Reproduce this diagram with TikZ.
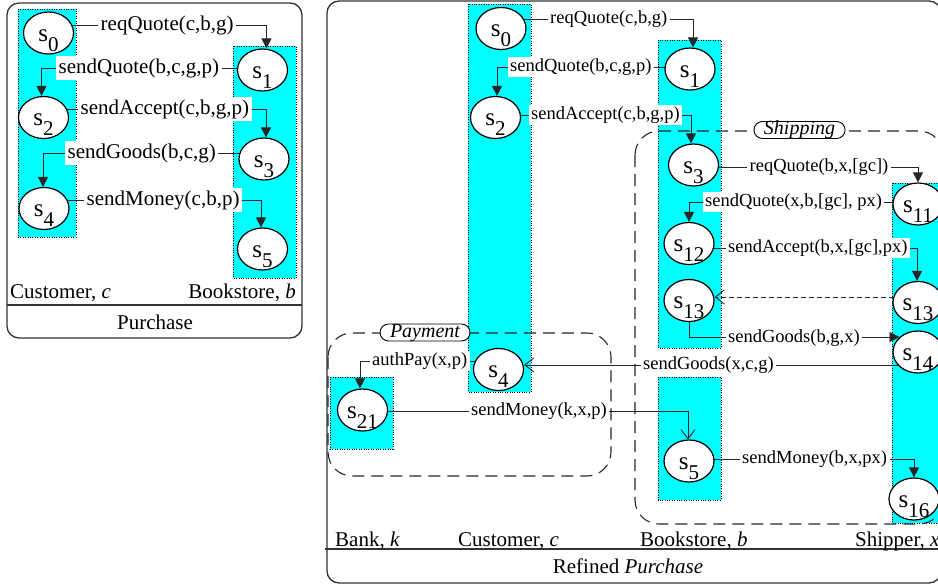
\documentclass[tikz,border=0pt]{standalone}
\usepackage{fontspec}
\setmainfont{Liberation Serif}
\usetikzlibrary{arrows.meta,shapes.geometric}
\pgfdeclarelayer{lanes}
\pgfdeclarelayer{conns}
\pgfsetlayers{lanes,conns,main}
\definecolor{lanecyan}{RGB}{0,255,255}
\newcommand{\stl}[1]{s\raisebox{-10pt}{\fontsize{21}{21}\selectfont #1}}
\begin{document}
\begin{tikzpicture}[x=1pt,y=-1pt,
  state/.style={ellipse,draw,line width=1.2pt,fill=white,minimum width=50pt,minimum height=42pt,inner sep=0pt,font=\fontsize{25}{25}\selectfont,text height=16pt,text depth=0pt},
  lblL/.style={fill=white,inner xsep=2.5pt,inner ysep=2pt,anchor=west,font=\fontsize{21}{21}\selectfont},
  lblR/.style={fill=white,inner xsep=2.5pt,inner ysep=2pt,anchor=west,font=\fontsize{18.5}{18.5}\selectfont},
  lanename/.style={inner sep=0pt,font=\fontsize{21}{21}\selectfont},
  pill/.style={draw,fill=white,line width=0.9pt,rounded corners=8.5pt,inner xsep=10pt,inner ysep=0pt,text height=13pt,text depth=4pt,font=\fontsize{20}{20}\selectfont\itshape},
  conn/.style={line width=0.9pt,draw=black!85},
  arrF/.style={-{Triangle[length=10pt,width=10pt]}},
  arrO/.style={-{Straight Barb[length=9pt,width=14pt,line width=0.9pt]}},
  lanefill/.style={fill=lanecyan},
  laneedge/.style={draw=black,line width=0.6pt,dash pattern=on 0.8pt off 1.6pt},
  outerbox/.style={draw=black!80,line width=1.3pt,rounded corners=12pt},
  groupbox/.style={draw=black!85,line width=1.1pt,dash pattern=on 12pt off 7pt,rounded corners=24pt}]
\useasboundingbox (0,0) rectangle (938,584);

% ---------------- lanes ----------------
\begin{pgfonlayer}{lanes}
  \fill[lanefill] (18,9) rectangle (76,237);
  \draw[laneedge] (18,9) rectangle (76,237);
  \fill[lanefill] (233,46) rectangle (296,278);
  \draw[laneedge] (233,46) rectangle (296,278);
  \fill[lanefill] (468,4) rectangle (531,392);
  \draw[laneedge] (468,4) rectangle (531,392);
  \fill[lanefill] (658,40) rectangle (721,348);
  \draw[laneedge] (658,40) rectangle (721,348);
  \fill[lanefill] (658,377) rectangle (721,500);
  \draw[laneedge] (658,377) rectangle (721,500);
  \fill[lanefill] (892,183) rectangle (950,523);
  \draw[laneedge] (892,183) rectangle (950,523);
  \fill[lanefill] (330,377) rectangle (393,449);
  \draw[laneedge] (330,377) rectangle (393,449);
\end{pgfonlayer}

% ---------------- left panel ----------------
\node[state] (Ls0) at (48.5,33) {\stl{0}};
\node[state] (Ls1) at (262.5,70) {\stl{1}};
\node[state] (Ls2) at (43.5,117.5) {\stl{2}};
\node[state] (Ls3) at (264,159) {\stl{3}};
\node[state] (Ls4) at (44,208.5) {\stl{4}};
\node[state] (Ls5) at (262.5,249) {\stl{5}};

\node[lblL] (Lm1) at (98,25) {reqQuote(c,b,g)};
\node[lblL] (Lm2) at (56,68) {sendQuote(b,c,g,p)};
\node[lblL] (Lm3) at (78,109) {sendAccept(c,b,g,p)};
\node[lblL] (Lm4) at (65,153) {sendGoods(b,c,g)};
\node[lblL] (Lm5) at (84,200) {sendMoney(c,b,p)};

\node[lanename,anchor=base west] (Lc) at (10,298) {Customer, \textit{c}};
\node[lanename,anchor=base east] (Lb) at (296,298) {Bookstore, \textit{b}};
\node[lanename,anchor=base] (Lp) at (155,329) {Purchase};

% ---------------- right panel ----------------
\node[state] (Rs0) at (501,28.5) {\stl{0}};
\node[state] (Rs1) at (690,69) {\stl{1}};
\node[state] (Rs2) at (495.5,117.5) {\stl{2}};
\node[state] (Rs3) at (693.5,165) {\stl{3}};
\node[state] (Rs11) at (918,204) {\stl{11}};
\node[state] (Rs12) at (689,243.5) {\stl{12}};
\node[state] (Rs13) at (689,300.5) {\stl{13}};
\node[state] (Rs13b) at (918,302.5) {\stl{13}};
\node[state] (Rs14) at (918,352) {\stl{14}};
\node[state] (Rs4) at (498.5,369.5) {\stl{4}};
\node[state] (Rs21) at (362.5,410) {\stl{21}};
\node[state] (Rs5) at (689,461) {\stl{5}};
\node[state] (Rs16) at (914,499) {\stl{16}};

\node[lblR] (Rm1) at (547.5,19) {reqQuote(c,b,g)};
\node[lblR] (Rm2) at (507.5,67) {sendQuote(b,c,g,p)};
\node[lblR] (Rm3) at (528.5,115) {sendAccept(c,b,g,p)};
\node[lblR] (Rm4) at (747,167) {reqQuote(b,x,[gc])};
\node[lblR] (Rm5) at (702.5,202) {sendQuote(x,b,[gc], px)};
\node[lblR] (Rm6) at (725.5,248) {sendAccept(b,x,[gc],px)};
\node[lblR] (Rm7) at (725.5,338) {sendGoods(b,g,x)};
\node[lblR] (Rm8) at (640.5,365) {sendGoods(x,c,g)};
\node[lblR] (Rm9) at (369.5,361) {authPay(x,p)};
\node[lblR] (Rm10) at (468.5,411) {sendMoney(k,x,p)};
\node[lblR] (Rm11) at (739.5,459) {sendMoney(b,x,px)};

\node[pill] (Pship) at (799.5,130) {Shipping};
\node[pill] (Ppay) at (425,332.5) {Payment};

\node[lanename,anchor=base west] (Rk) at (335,546) {Bank, \textit{k}};
\node[lanename,anchor=base west] (Rc) at (458,546) {Customer, \textit{c}};
\node[lanename,anchor=base west] (Rb) at (640,546) {Bookstore, \textit{b}};
\node[lanename,anchor=base west] (Rx) at (855,546) {Shipper, \textit{x}};
\node[lanename,anchor=base] (Rp) at (628,573) {Refined \textit{Purchase}};

% ---------------- connectors and frames ----------------
\begin{pgfonlayer}{conns}
  \draw[outerbox] (7,3) rectangle (302,338);
  \draw[draw=black!80,line width=1.1pt] (7,305) -- (302,305);
  \draw[outerbox] (327,1) rectangle (941,583);
  \draw[draw=black!80,line width=1.1pt] (325,549) -- (941,549);
  \draw[groupbox] (635,131) rectangle (943,524);
  \draw[groupbox] (328,333) rectangle (611,476);

  \draw[conn,arrF] ([yshift=8pt]Ls0.center) -| ([xshift=4pt]Ls1.north);
  \draw[conn,arrF] ([yshift=2pt]Ls1.center) -| ([xshift=-2pt]Ls2.north);
  \draw[conn,arrF] ([yshift=8.5pt]Ls2.center) -| ([xshift=2pt]Ls3.north);
  \draw[conn,arrF] ([yshift=6pt]Ls3.center) -| ([xshift=-1pt]Ls4.north);
  \draw[conn,arrF] ([yshift=8.5pt]Ls4.center) -| ([xshift=-1.5pt]Ls5.north);

  \draw[conn,arrF] ([yshift=9.5pt]Rs0.center) -| ([xshift=3pt]Rs1.north);
  \draw[conn,arrF] ([yshift=2pt]Rs1.center) -| ([xshift=1.5pt]Rs2.north);
  \draw[conn,arrF] ([yshift=2.5pt]Rs2.center) -| ([xshift=-2.5pt]Rs3.north);
  \draw[conn,arrF] ([yshift=-2pt]Rs3.center) -| (Rs11.north);
  \draw[conn,arrF] ([yshift=2pt]Rs11.center) -| (Rs12.north);
  \draw[conn,arrF] ([yshift=-4.5pt]Rs12.center) -| ([xshift=-1pt]Rs13b.north);
  \coordinate (d1) at ([yshift=5.5pt]Rs13b.center);
  \draw[conn,arrO,dash pattern=on 5pt off 3pt] (d1) -- (d1 -| Rs13.east);
  \draw[conn,arrF] (Rs13.south) |- (Rs14.141);
  \coordinate (d2) at ([yshift=-13pt]Rs14.center);
  \draw[conn,arrO] (d2) -- (d2 -| Rs4.east);
  \draw[conn,arrF] ([yshift=8.5pt]Rs4.center) -| ([xshift=-2.5pt]Rs21.north);
  \draw[conn,arrO] ([yshift=-1pt]Rs21.center) -| ([xshift=-1pt]Rs5.north);
  \draw[conn,arrF] ([yshift=2pt]Rs5.center) -| (Rs16.north);
\end{pgfonlayer}
\end{tikzpicture}
\end{document}
